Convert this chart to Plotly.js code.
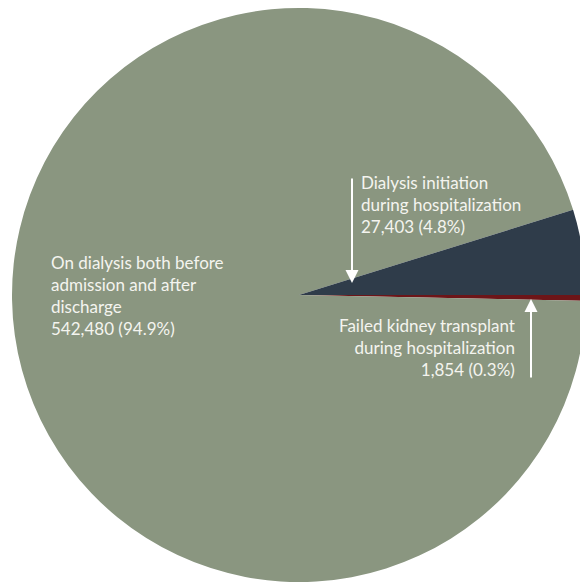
<!DOCTYPE html>
<html>
<head>
<meta charset="utf-8">
<script src="https://cdn.plot.ly/plotly-3.0.1.min.js"></script>
<style>
html, body { margin: 0; padding: 0; overflow: hidden; background: #ffffff; }
#chart { width: 600px; height: 583px; }
</style>
</head>
<body>
<div id="chart"></div>
<script>
// Data (order as drawn clockwise from 3 o'clock)
const categories = [
  "Failed kidney transplant during hospitalization",
  "On dialysis both before admission and after discharge",
  "Dialysis initiation during hospitalization"
];
const labelLines = [
  ["Failed kidney transplant", "during hospitalization"],
  ["On dialysis both before", "admission and after", "discharge"],
  ["Dialysis initiation", "during hospitalization"]
];
const counts = [1854, 542480, 27403];
const percents = [0.3, 94.9, 4.8];
const sliceColors = ["#6d1518", "#8a9680", "#2f3c4a"];

const W = 600, H = 583;
const px = x => x / W;
const py = y => 1 - y / H;

function labelText(i) {
  return labelLines[i].join("<br>") + "<br>" +
    counts[i].toLocaleString("en-US") + " (" + percents[i].toFixed(1) + "%)";
}

const txtFont = { family: "Lato, 'Open Sans', sans-serif", size: 17, color: "#f4f4ef" };

const trace = {
  type: "pie",
  labels: categories,
  values: counts,
  sort: false,
  direction: "clockwise",
  rotation: 90,
  marker: { colors: sliceColors, line: { width: 0 } },
  textinfo: "none",
  hoverinfo: "none",
  showlegend: false,
  domain: { x: [px(12), px(586)], y: [py(582), py(8)] }
};

const layout = {
  width: W,
  height: H,
  margin: { l: 0, r: 0, t: 0, b: 0 },
  paper_bgcolor: "#ffffff",
  showlegend: false,
  annotations: [
    {
      xref: "paper", yref: "paper", x: px(359), y: py(170),
      xanchor: "left", yanchor: "top", align: "left",
      text: labelText(2), showarrow: false, font: txtFont
    },
    {
      xref: "paper", yref: "paper", x: px(49), y: py(250),
      xanchor: "left", yanchor: "top", align: "left",
      text: labelText(1), showarrow: false, font: txtFont
    },
    {
      xref: "paper", yref: "paper", x: px(517), y: py(313),
      xanchor: "right", yanchor: "top", align: "right",
      text: labelText(0), showarrow: false, font: txtFont
    },
    {
      xref: "paper", yref: "paper", x: px(352), y: py(283),
      axref: "pixel", ayref: "pixel", ax: 0, ay: -106,
      text: "", showarrow: true, arrowhead: 2, arrowsize: 1.3,
      arrowwidth: 2, arrowcolor: "#ffffff", standoff: 0
    },
    {
      xref: "paper", yref: "paper", x: px(531), y: py(299),
      axref: "pixel", ayref: "pixel", ax: 0, ay: 80,
      text: "", showarrow: true, arrowhead: 2, arrowsize: 1.3,
      arrowwidth: 2, arrowcolor: "#ffffff", standoff: 0
    }
  ]
};

Plotly.newPlot("chart", [trace], layout, { displayModeBar: false, staticPlot: true });
</script>
</body>
</html>
